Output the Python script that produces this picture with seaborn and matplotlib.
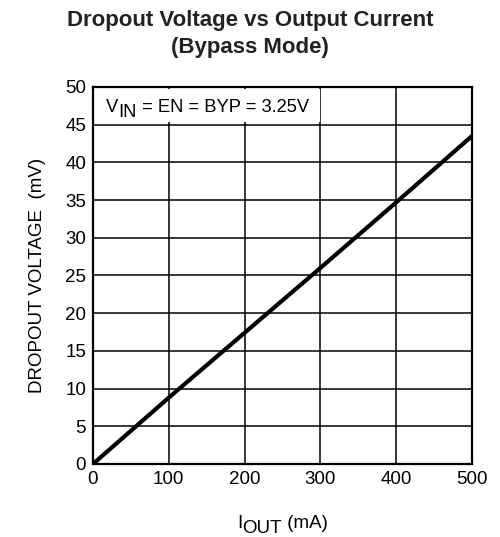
import seaborn as sns
import matplotlib.pyplot as plt
import matplotlib.transforms as mtransforms
from matplotlib.patches import Rectangle
import pandas as pd

# data
iout_ma = [0, 100, 200, 300, 400, 500]
dropout_mv = [0, 8.8, 17.4, 26.0, 34.7, 43.5]
x_ticks = [0, 100, 200, 300, 400, 500]
y_ticks = [0, 5, 10, 15, 20, 25, 30, 35, 40, 45, 50]

sns.set_theme(style="white")
plt.rcParams['font.family'] = ['Liberation Sans', 'DejaVu Sans']

df = pd.DataFrame({'iout': iout_ma, 'vdo': dropout_mv})

fig = plt.figure(figsize=(5, 5.37), dpi=100)
ax = fig.add_axes([0.186, 0.136, 0.758, 0.702])

sns.lineplot(data=df, x='iout', y='vdo', color='black', linewidth=3.0, ax=ax, zorder=3)

ax.set_xlim(0, 500)
ax.set_ylim(0, 50)
ax.set_xticks(x_ticks)
ax.set_yticks(y_ticks)
ax.tick_params(axis='both', length=0, labelsize=13.5, colors='black', pad=5)
ax.grid(True, color='black', linewidth=1.1)
for s in ax.spines.values():
    s.set_color('black')
    s.set_linewidth(1.6)

ax.set_xlabel('')
ax.set_ylabel('DROPOUT VOLTAGE  (mV)', fontsize=13.5, color='black', labelpad=14)

# white box hiding the grid behind the condition label
ax.add_patch(Rectangle((0.5, 45.3), 299, 4.5, facecolor='white', edgecolor='none', zorder=2.5))

fig.canvas.draw()
renderer = fig.canvas.get_renderer()


def sub_text(x, y, parts, transform, size, ha='left'):
    # draw text pieces one after another; (string, is_subscript)
    pieces = []
    offset_x = 0
    for s, is_sub in parts:
        dy = -5 if is_sub else 0
        tr = mtransforms.offset_copy(transform, fig=fig, x=offset_x, y=dy, units='dots')
        t = fig.text(x, y, s, transform=tr, fontsize=size, va='center', ha='left', color='black', zorder=5)
        w = t.get_window_extent(renderer).width
        offset_x += w
        pieces.append(t)
    if ha == 'center':
        for t in pieces:
            t.set_transform(t.get_transform() + mtransforms.Affine2D().translate(-offset_x / 2, 0))
    return pieces


sub_text(17, 47.3, [('V', False), ('IN', True), (' = EN = BYP = 3.25V', False)], ax.transData, 13.2)
sub_text(0.5 * (0.186 + 0.944), 0.026, [('I', False), ('OUT', True), (' (mA)', False)],
         fig.transFigure, 13.5, ha='center')

fig.text(0.5, 0.962, 'Dropout Voltage vs Output Current', ha='center', va='center',
         fontsize=16, fontweight='bold', color='#222222')
fig.text(0.5, 0.911, '(Bypass Mode)', ha='center', va='center',
         fontsize=16, fontweight='bold', color='#222222')

fig.savefig('out.png', dpi=100)
